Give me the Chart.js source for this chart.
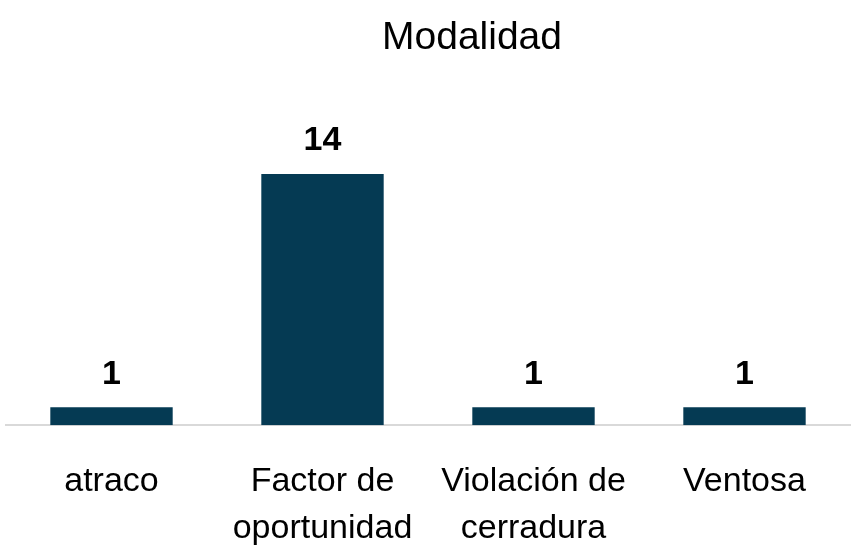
<!DOCTYPE html>
<html>
<head>
<meta charset="utf-8">
<script src="https://cdn.jsdelivr.net/npm/chart.js@4/dist/chart.umd.min.js"></script>
<style>
  html, body { margin: 0; padding: 0; background: #fff; }
  #wrap { width: 856px; height: 556px; }
</style>
</head>
<body>
<div id="wrap"><canvas id="modalidadChart"></canvas></div>
<script>
var categorias = [["atraco"], ["Factor de", "oportunidad"], ["Violación de", "cerradura"], ["Ventosa"]];
var valores = [1, 14, 1, 1];
var titulo = "Modalidad";

var fuente = "'Liberation Sans Narrow', 'Arial Narrow', 'Liberation Sans', sans-serif";

// values above the bars (no datalabels plugin available)
var etiquetas = {
    id: 'etiquetas',
    afterDatasetsDraw: function (chart) {
        var ctx = chart.ctx;
        var meta = chart.getDatasetMeta(0);
        ctx.save();
        ctx.fillStyle = '#000';
        ctx.font = 'bold 34px ' + fuente;
        ctx.textAlign = 'center';
        ctx.textBaseline = 'middle';
        meta.data.forEach(function (bar, i) {
            ctx.fillText(valores[i], bar.x, bar.y - 33);
        });
        ctx.restore();
    }
};

// title sits a bit right of centre in the original
var tituloPlugin = {
    id: 'tituloPlugin',
    afterDraw: function (chart) {
        var ctx = chart.ctx;
        ctx.save();
        ctx.fillStyle = '#000';
        ctx.font = '39px ' + fuente;
        ctx.textAlign = 'center';
        ctx.textBaseline = 'middle';
        ctx.fillText(titulo, 472, 38);
        ctx.restore();
    }
};

new Chart('modalidadChart', {
    type: 'bar',
    data: {
        labels: categorias,
        datasets: [
            {
                data: valores,
                backgroundColor: '#053a53',
                barPercentage: 0.58,
                categoryPercentage: 1
            }
        ]
    },
    options: {
        responsive: true,
        maintainAspectRatio: false,
        animation: false,
        layout: {
            padding: { top: 138, left: 6, right: 6, bottom: -21 }
        },
        scales: {
            x: {
                grid: { display: false },
                border: { display: true, color: '#d9d9d9', width: 2 },
                ticks: {
                    color: '#000',
                    padding: 25,
                    maxRotation: 0,
                    autoSkip: false,
                    font: { family: fuente, size: 34, lineHeight: 1.38 }
                }
            },
            y: {
                display: false,
                min: 0,
                max: 16
            }
        },
        plugins: {
            legend: { display: false },
            tooltip: { enabled: false }
        }
    },
    plugins: [etiquetas, tituloPlugin]
});
</script>
</body>
</html>
